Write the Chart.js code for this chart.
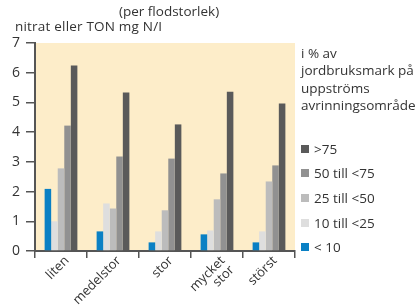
<!DOCTYPE html>
<html><head><meta charset="utf-8">
<script src="https://cdn.jsdelivr.net/npm/chart.js@4/dist/chart.umd.min.js"></script>
<style>
html,body{margin:0;padding:0;background:#fff;}
#wrap{position:relative;width:418px;height:305px;font-family:"Open Sans",sans-serif;color:#333;}
canvas{position:absolute;left:0;top:0;}
.t{position:absolute;font-size:13.5px;white-space:nowrap;line-height:16px;}
#legend{position:absolute;left:301px;top:44.5px;font-size:13.5px;line-height:17.5px;color:#333;}
#legend .item{position:relative;height:24.7px;line-height:24.7px;padding-left:13px;}
#legend .sw{position:absolute;left:0;top:8px;width:8px;height:8px;}
</style></head>
<body>
<div id="wrap">
<canvas id="c" width="418" height="305"></canvas>
<div class="t" style="left:119px;top:3px;">(per flodstorlek)</div>
<div class="t" style="left:15px;top:18px;letter-spacing:0.2px;">nitrat eller TON mg N/I</div>
<div id="legend"></div>
</div>
<script>
const categories = ['liten', 'medelstor', 'stor', ['mycket', 'stor'], 'störst'];
const seriesNames = ['< 10', '10 till <25', '25 till <50', '50 till <75', '>75'];
const seriesColors = ['#0a80c4', '#dedede', '#bcbcbc', '#919191', '#5a5a5a'];
const lt10 = [2.09, 0.66, 0.29, 0.56, 0.29];
const p10to25 = [1.0, 1.60, 0.66, 0.69, 0.66];
const p25to50 = [2.78, 1.43, 1.37, 1.74, 2.34];
const p50to75 = [4.22, 3.18, 3.11, 2.61, 2.88];
const gt75 = [6.24, 5.33, 4.26, 5.36, 4.96];
const yTicks = [0, 1, 2, 3, 4, 5, 6, 7];
const legendTitle = ['i % av', 'jordbruksmark på', 'uppströms', 'avrinningsområde'];

const seriesValues = [lt10, p10to25, p25to50, p50to75, gt75];

const bgPlugin = {
  id: 'bg',
  beforeDraw(chart) {
    const {ctx, chartArea: a} = chart;
    ctx.save();
    ctx.fillStyle = '#fdedc9';
    ctx.fillRect(a.left, a.top, a.right - a.left, a.bottom - a.top);
    ctx.restore();
  }
};

const fam = '"Open Sans", sans-serif';
const font = {family: fam, size: 13, lineHeight: 1.0};
const chart = new Chart(document.getElementById('c'), {
  type: 'bar',
  data: {
    labels: categories,
    datasets: seriesValues.map((v, i) => ({
      label: seriesNames[i],
      data: v,
      backgroundColor: seriesColors[i],
      borderWidth: 0,
      categoryPercentage: 0.63,
      barPercentage: 1.0
    }))
  },
  options: {
    responsive: false,
    devicePixelRatio: 1,
    animation: false,
    layout: {padding: {left: 0, right: 123, top: 43, bottom: 0}},
    plugins: {legend: {display: false}, tooltip: {enabled: false}},
    scales: {
      x: {
        afterFit(s) { s.height = 54; },
        grid: {display: true, offset: true, drawOnChartArea: false, drawTicks: true, tickLength: 7, color: '#555', lineWidth: 1.5},
        border: {display: true, color: '#555', width: 2},
        ticks: {font: font, color: '#333', minRotation: 45, maxRotation: 45, padding: -4, labelOffset: 6, autoSkip: false}
      },
      y: {
        min: 0, max: 7,
        afterFit(s) { s.width = 35; },
        afterBuildTicks(s) { s.ticks = yTicks.map(v => ({value: v})); },
        grid: {display: true, drawOnChartArea: false, drawTicks: true, tickLength: 9, color: '#555', lineWidth: 1.5},
        border: {display: true, color: '#555', width: 2},
        ticks: {font: {family: fam, size: 14}, color: '#333', padding: 6}
      }
    }
  },
  plugins: [bgPlugin]
});

const lg = document.getElementById('legend');
let html = '<div style="margin-bottom:22px">' + legendTitle.join('<br>') + '</div>';
for (let i = seriesNames.length - 1; i >= 0; i--) {
  html += '<div class="item"><span class="sw" style="background:' + seriesColors[i] + '"></span>' + seriesNames[i].replace(/</g, '&lt;') + '</div>';
}
lg.innerHTML = html;
</script>
</body></html>
